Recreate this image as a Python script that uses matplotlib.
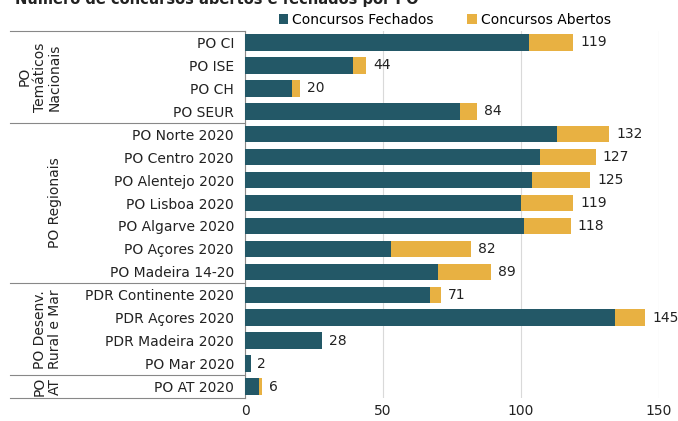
import matplotlib
matplotlib.use('Agg')
import matplotlib.pyplot as plt
import matplotlib.transforms as mtransforms
import numpy as np

programas = ['PO CI', 'PO ISE', 'PO CH', 'PO SEUR',
             'PO Norte 2020', 'PO Centro 2020', 'PO Alentejo 2020', 'PO Lisboa 2020',
             'PO Algarve 2020', 'PO Açores 2020', 'PO Madeira 14-20',
             'PDR Continente 2020', 'PDR Açores 2020', 'PDR Madeira 2020', 'PO Mar 2020',
             'PO AT 2020']
fechados = [103, 39, 17, 78, 113, 107, 104, 100, 101, 53, 70, 67, 134, 28, 2, 5]
abertos = [16, 5, 3, 6, 19, 20, 21, 19, 17, 29, 19, 4, 11, 0, 0, 1]

grupos = ['PO\nTemáticos\nNacionais', 'PO Regionais', 'PO Desenv.\nRural e Mar', 'PO\nAT']
grupo_tamanho = [4, 7, 4, 1]

cor_fechados = '#235867'
cor_abertos = '#E8B142'

fig = plt.figure(figsize=(6.78, 4.21), dpi=100)
ax = fig.add_axes([245/678, 1-398/421, 414/678, 367/421])

y = np.arange(len(programas))
ax.barh(y, fechados, height=0.72, color=cor_fechados, label='Concursos Fechados', zorder=3)
ax.barh(y, abertos, left=fechados, height=0.72, color=cor_abertos, label='Concursos Abertos', zorder=3)

totais = [f + a for f, a in zip(fechados, abertos)]
for yi, t in zip(y, totais):
    ax.annotate(str(t), (t, yi), xytext=(5, 0), textcoords='offset points',
                va='center', ha='left', fontsize=10, color='#222222')

ax.set_xlim(0, 150)
ax.set_ylim(len(programas) - 0.5, -0.5)
ax.set_xticks([0, 50, 100, 150])
ax.set_yticks(y)
ax.set_yticklabels(programas, fontsize=10, color='#222222')
ax.tick_params(axis='x', length=0, pad=4, labelsize=10, colors='#222222')
ax.tick_params(axis='y', length=0, pad=8)
ax.grid(axis='x', color='#d9d9d9', linewidth=0.8, zorder=0)
for s in ['top', 'right', 'bottom']:
    ax.spines[s].set_visible(False)
ax.spines['left'].set_color('#888888')
ax.spines['left'].set_linewidth(0.8)

# linhas da tabela de grupos
trans = mtransforms.blended_transform_factory(ax.transAxes, ax.transData)
x0 = (10 - 245) / 414
fronteiras = np.cumsum([0] + grupo_tamanho) - 0.5
for b in fronteiras:
    ax.plot([x0, 0], [b, b], transform=trans, color='#888888', linewidth=0.8, clip_on=False)

xg = (62 - 245) / 414
for nome, ini, fim in zip(grupos, fronteiras[:-1], fronteiras[1:]):
    ax.text(xg, (ini + fim) / 2, nome, transform=trans, rotation=90, ha='right', va='center',
            multialignment='center', fontsize=10, color='#222222', linespacing=1.1)

ax.legend(loc='center left', bbox_to_anchor=(273/678, 1-20/421), bbox_transform=fig.transFigure,
          ncol=2, frameon=False, fontsize=10, handlelength=0.7, handleheight=0.7,
          handletextpad=0.3, columnspacing=2.4, borderaxespad=0)

# titulo cortado no topo, como no original
fig.text(15/678, 1 - 4/421, 'Número de concursos abertos e fechados por PO', ha='left', va='baseline',
         fontsize=10.5, fontweight='bold', color='#222222')

fig.savefig('out.png', dpi=100)
